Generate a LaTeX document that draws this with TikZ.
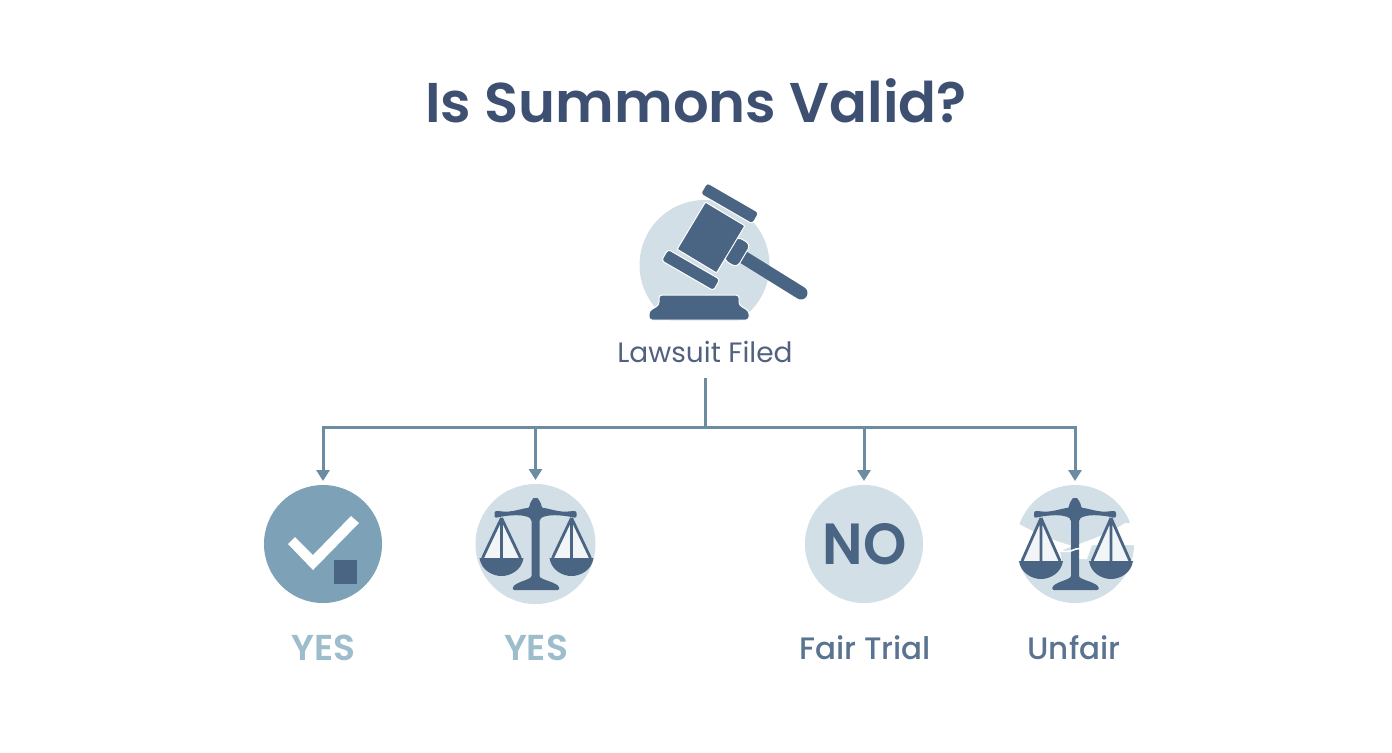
\documentclass[tikz,border=0pt]{standalone}
\usepackage{fontspec}
\setmainfont{Poppins}[BoldFont={Poppins SemiBold}]
\newfontfamily\mediumfont{Poppins Medium}
\usetikzlibrary{arrows.meta}

\definecolor{titleblue}{HTML}{3E5072}
\definecolor{darkslate}{HTML}{4A6483}
\definecolor{midslate}{HTML}{7DA1B6}
\definecolor{paleslate}{HTML}{D3DFE6}
\definecolor{linkslate}{HTML}{6B8CA1}
\definecolor{yesblue}{HTML}{9DBCCC}
\definecolor{labelslate}{HTML}{5A7391}

\tikzset{
    titletext/.style={text=titleblue, font=\fontsize{28pt}{34pt}\selectfont\bfseries},
    filedtext/.style={text=titleblue!90, font=\fontsize{14pt}{18pt}\selectfont, minimum height=26pt},
    yestext/.style={text=yesblue, font=\fontsize{18pt}{20pt}\selectfont\bfseries},
    resulttext/.style={text=labelslate, font=\fontsize{15.5pt}{20pt}\selectfont\mediumfont},
    badge/.style={circle, minimum size=59pt, inner sep=0pt, outer sep=2pt, fill=paleslate},
    gavelpart/.style={draw=white, line width=.5pt, fill=darkslate, rounded corners=1.5pt, inner sep=0pt},
    flowline/.style={draw=linkslate, line width=1.5pt},
    flowarrow/.style={flowline, -{Triangle[width=6.5pt,length=5.5pt]}},
    scalesmark/.pic={
        % pans hang lower by #1
        \fill[white!70!paleslate] (-34,-26) -- (-55,14+#1) -- (-13,14+#1) -- cycle;
        \fill[white!70!paleslate] (36,-26) -- (15,14+#1) -- (57,14+#1) -- cycle;
        \draw[darkslate, line width=1.4pt] (-34,-26) -- (-53,14+#1) (-34,-26) -- (-34,14+#1) (-34,-26) -- (-15,14+#1);
        \draw[darkslate, line width=1.4pt] (36,-26) -- (17,14+#1) (36,-26) -- (36,14+#1) (36,-26) -- (55,14+#1);
        \fill[darkslate] (-56,14+#1) -- (-12,14+#1) .. controls (-14,27+#1) and (-26,32+#1) .. (-34,32+#1) .. controls (-42,32+#1) and (-54,27+#1) .. cycle;
        \fill[darkslate] (14,14+#1) -- (58,14+#1) .. controls (56,27+#1) and (44,32+#1) .. (36,32+#1) .. controls (28,32+#1) and (16,27+#1) .. cycle;
        % beam, post and foot
        \fill[darkslate, rounded corners=1pt] (-41,-33) -- (-36,-33) .. controls (-25,-31) and (-12,-36) .. (-6,-36)
            .. controls (-6,-41) and (-2,-46) .. (0,-46) .. controls (2,-46) and (6,-41) .. (6,-36)
            .. controls (12,-36) and (25,-31) .. (36,-33) -- (41,-33) -- (41,-26) -- (36,-27)
            .. controls (25,-29) and (12,-30) .. (4,-25) -- (4,30) .. controls (4,36) and (23,38) .. (24,46)
            -- (-23,46) .. controls (-22,38) and (-4,36) .. (-4,30) -- (-4,-25)
            .. controls (-12,-30) and (-25,-29) .. (-36,-27) -- (-41,-26) -- cycle;
    },
}

\begin{document}
\begin{tikzpicture}[x=.5pt, y=-.5pt]
    \useasboundingbox (0,0) rectangle (1392,752);

    \node[titletext] (title) at (696,101) {Is Summons Valid?};

    % gavel
    \begin{scope}
        \clip (600,170) rectangle (820,320);
        \node[badge, minimum size=65pt, outer sep=0pt] (gavelback) at (704.5,265) {};
    \end{scope}
    \fill[darkslate, draw=white, line width=.5pt, rounded corners=1.5pt] (659,305) -- (659,295) -- (739,295) -- (739,305) -- (749,311) -- (749,320) -- (649,320) -- (649,311) -- cycle;
    \draw[darkslate, line width=6.5pt, line cap=round] (735,252) -- (801,293);
    \node[gavelpart, minimum width=8pt, minimum height=13.5pt, rotate=-31, rounded corners=2.5pt] (collar) at (737,252) {};
    \node[gavelpart, minimum width=23pt, minimum height=27.5pt, rotate=-31, rounded corners=.5pt] (gavelbody) at (711,237.5) {};
    \node[gavelpart, minimum width=30pt, minimum height=6.5pt, rotate=-30] (topbar) at (729.7,203.3) {};
    \node[gavelpart, minimum width=30pt, minimum height=6.5pt, rotate=-30] (lowbar) at (690.7,270) {};

    \node[filedtext] (filed) at (705,352) {Lawsuit Filed};

    % result badges
    \node[badge, fill=midslate] (check) at (323,544) {};
    \node[badge, minimum size=60pt] (scalesyes) at (535.5,544) {};
    \node[badge] (nobadge) at (864,544) {};
    \node[badge] (unfairbadge) at (1075,544) {};

    \fill[white] (check.center) ++(-35,0) -- ++(7,-7) -- ++(18,18) -- ++(38,-39) -- ++(8,7) -- ++(-46,47) -- cycle;
    \fill[darkslate] (334,560) rectangle (356.5,584);

    \pic at (535.5,544) {scalesmark=0};

    \node[text=darkslate, font=\fontsize{29pt}{36pt}\selectfont\bfseries, xscale=.95] (notext) at (864.5,544) {NO};

    % broken ground behind the second scales
    \fill[white] (1015,523) -- (1017,523) .. controls (1030,530) and (1050,540) .. (1073,546) -- (1060,551) -- (1062,562) -- (1013,562) -- cycle;
    \fill[white] (1073,546) .. controls (1097,538) and (1115,530) .. (1125,523) -- (1136,523) -- (1136,545) -- (1092,545) -- (1087,559) -- (1078,559) -- cycle;
    \pic at (1075,544) {scalesmark=3};
    \draw[white, line width=.8pt] (1060,551) .. controls (1070,552) and (1072,551) .. (1076,549) -- (1084,548);

    % labels
    \node[yestext] (yesa) at (323.5,648) {YES};
    \node[yestext] (yesb) at (536,648) {YES};
    \node[resulttext] (fair) at (865,648) {Fair Trial};
    \node[resulttext] (unfair) at (1074,648) {Unfair};

    % connectors
    \coordinate (bus) at (705,427);
    \draw[flowline] (filed) -- (bus);
    \draw[flowarrow] (bus) -| (check);
    \draw[flowarrow] (bus) -| (scalesyes);
    \draw[flowarrow] (bus) -| (nobadge);
    \draw[flowarrow] (bus) -| (unfairbadge);
\end{tikzpicture}
\end{document}
